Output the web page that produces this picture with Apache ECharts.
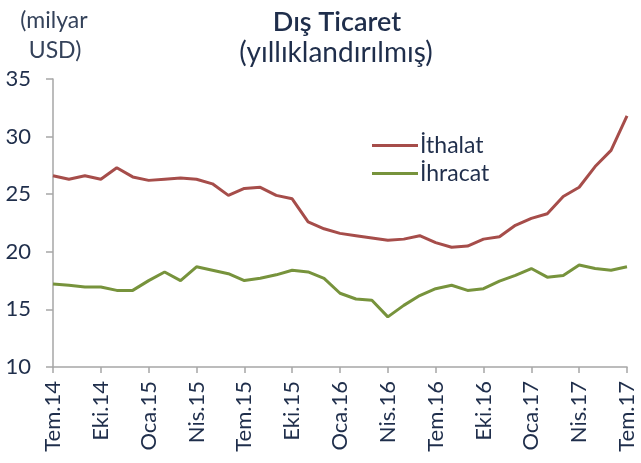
<!DOCTYPE html>
<html>
<head>
<meta charset="utf-8">
<script src="https://cdn.jsdelivr.net/npm/echarts@6/dist/echarts.min.js"></script>
<style>
html,body{margin:0;padding:0;background:#fff;}
#c{width:641px;height:463px;}
</style>
</head>
<body>
<div id="c"></div>
<script>
const months = ['Tem','Ağu','Eyl','Eki','Kas','Ara','Oca','Şub','Mar','Nis','May','Haz'];
const categories = [];
(function(){
  let m = 0, y = 14;
  for (let i = 0; i < 37; i++) {
    categories.push(months[m] + '.' + y);
    m++; if (m === 12) { m = 0; }
    if (m === 6) { y++; }
  }
})();
const ithalat = [26.6, 26.3, 26.6, 26.3, 27.3, 26.5, 26.2, 26.3, 26.4, 26.3, 25.9, 24.9, 25.5, 25.6, 24.9, 24.6, 22.6, 22.0,
                 21.6, 21.4, 21.2, 21.0, 21.1, 21.4, 20.8, 20.4, 20.5, 21.1, 21.3, 22.3, 22.9, 23.3, 24.8, 25.6, 27.4, 28.8, 31.8];
const ihracat = [17.2, 17.1, 16.95, 16.95, 16.65, 16.65, 17.5, 18.25, 17.5, 18.7, 18.4, 18.1, 17.5, 17.7, 18.0, 18.4, 18.25, 17.7,
                 16.4, 15.9, 15.8, 14.35, 15.35, 16.2, 16.8, 17.1, 16.65, 16.8, 17.45, 17.95, 18.55, 17.8, 17.95, 18.85, 18.55, 18.4, 18.7];
const seriesNames = ['İthalat', 'İhracat'];
const yTicks = {min: 10, max: 35, step: 5};

const FONT = 'Lato, "Noto Sans", sans-serif';
const TXT = '#1f2e4b';
const chart = echarts.init(document.getElementById('c'), null, {renderer: 'canvas'});
chart.setOption({
  animation: false,
  backgroundColor: '#ffffff',
  textStyle: {fontFamily: FONT},
  graphic: [
    {type: 'text', style: {text: 'Dış Ticaret', x: 337, y: 9, textAlign: 'center', fill: TXT, font: '600 27px ' + FONT}},
    {type: 'text', style: {text: '(yıllıklandırılmış)', x: 336, y: 39, textAlign: 'center', fill: TXT, font: '28px ' + FONT}},
    {type: 'text', style: {text: '(milyar', x: 54, y: 9, textAlign: 'center', fill: '#34425a', font: '23px ' + FONT}},
    {type: 'text', style: {text: 'USD)', x: 55, y: 39, textAlign: 'center', fill: '#34425a', font: '23px ' + FONT}}
  ],
  legend: {
    orient: 'vertical',
    left: 367, top: 129,
    icon: 'rect',
    itemWidth: 46, itemHeight: 3,
    itemGap: 5,
    textStyle: {fontSize: 23, color: TXT, fontFamily: FONT, padding: [0,0,0,-3]},
    data: seriesNames
  },
  grid: {left: 53, right: 14, top: 79, bottom: 96, containLabel: false},
  xAxis: {
    type: 'category',
    data: categories,
    boundaryGap: false,
    axisLine: {lineStyle: {color: '#a6a6a6', width: 1.5}},
    axisTick: {show: true, interval: 2, length: 6, lineStyle: {color: '#a6a6a6', width: 1.5}},
    axisLabel: {interval: 2, rotate: 90, margin: 14, fontSize: 22, color: TXT, fontFamily: FONT},
    splitLine: {show: false}
  },
  yAxis: {
    type: 'value',
    min: yTicks.min, max: yTicks.max, interval: yTicks.step,
    axisLine: {show: true, lineStyle: {color: '#a6a6a6', width: 1.5}},
    axisTick: {show: true, length: 7, lineStyle: {color: '#a6a6a6', width: 1.5}},
    axisLabel: {margin: 22, fontSize: 22, color: TXT, fontFamily: FONT},
    splitLine: {show: false}
  },
  series: [
    {name: seriesNames[0], type: 'line', data: ithalat, showSymbol: false, symbol: 'none',
     lineStyle: {color: '#a64d4a', width: 3}, itemStyle: {color: '#a64d4a'}},
    {name: seriesNames[1], type: 'line', data: ihracat, showSymbol: false, symbol: 'none',
     lineStyle: {color: '#77933c', width: 3}, itemStyle: {color: '#77933c'}}
  ]
});
</script>
</body>
</html>
